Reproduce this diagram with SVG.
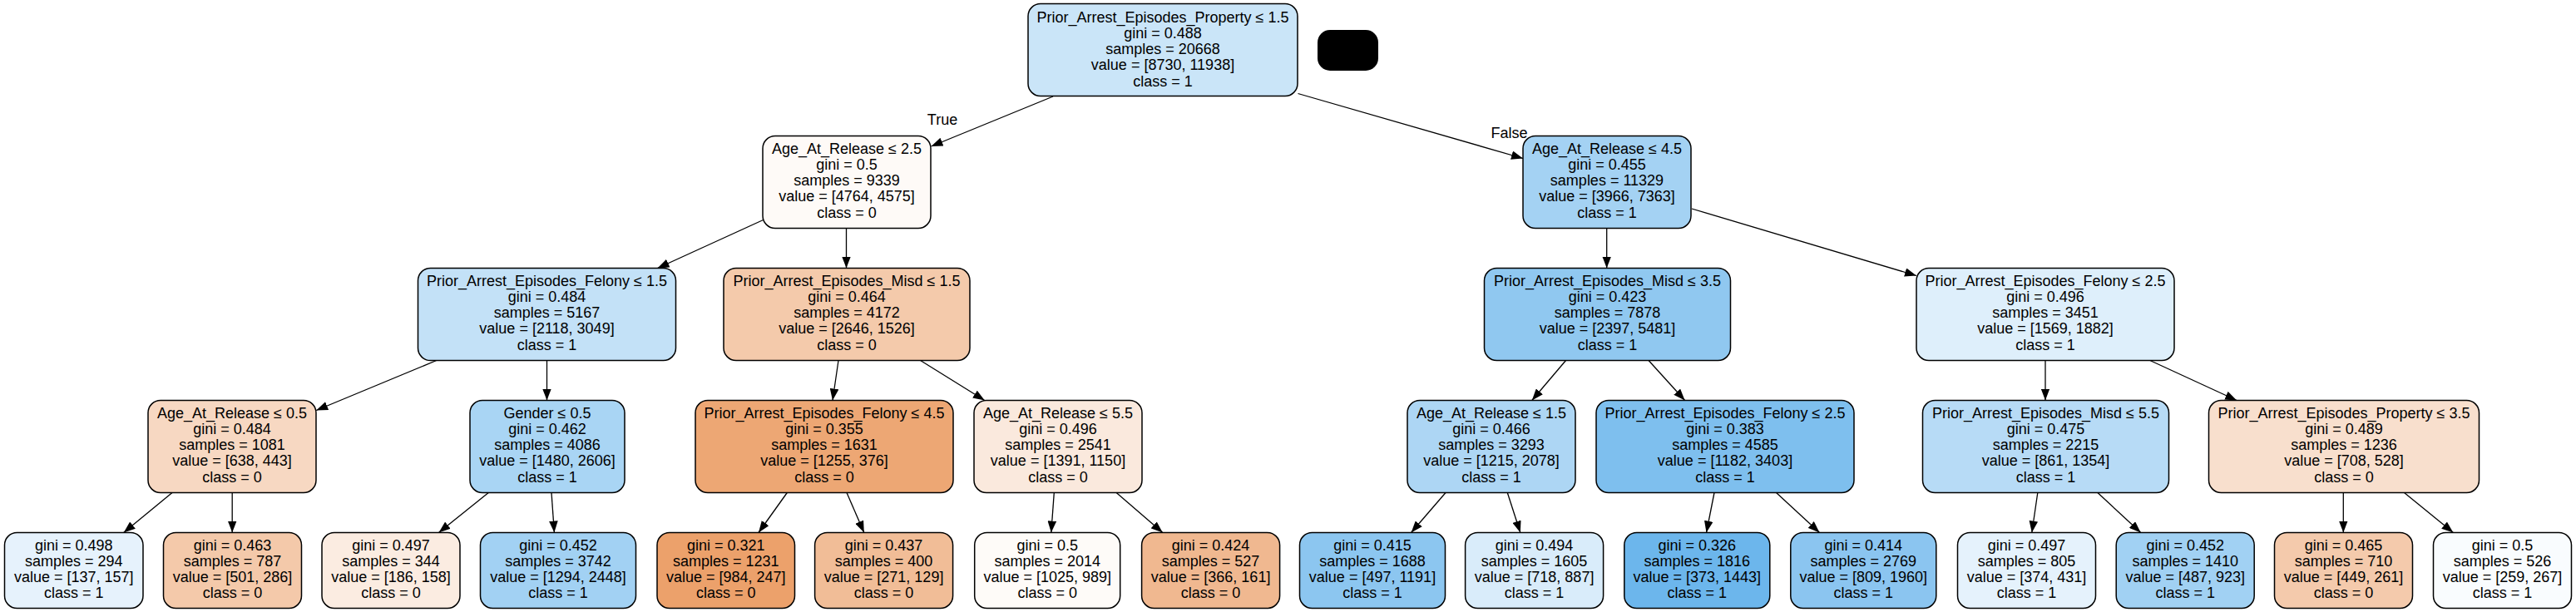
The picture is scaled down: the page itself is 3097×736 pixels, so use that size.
<svg xmlns="http://www.w3.org/2000/svg" width="3097" height="736" viewBox="0 0 3097 736">
<defs>
<style>
.n{stroke:#000;stroke-width:1.5}
.t{font-family:"Liberation Sans",Arial,Helvetica,sans-serif;font-size:18px;text-anchor:middle;fill:#000}
.e{stroke:#000;stroke-width:1.3;fill:none;marker-end:url(#ah)}
</style>
<marker id="ah" markerUnits="userSpaceOnUse" markerWidth="14" markerHeight="10.6" viewBox="0 0 14 10.6" refX="14" refY="5.3" orient="auto">
<path d="M0,0 L14,5.3 L0,10.6 z" fill="#000"/>
</marker>
</defs>
<rect width="3097" height="736" fill="#fff"/>
<g id="edges">
<line class="e" x1="1266" y1="116" x2="1119.5" y2="176"/>
<line class="e" x1="1560.5" y1="112.5" x2="1831" y2="190.5"/>
<line class="e" x1="917.5" y1="264.5" x2="790.5" y2="322.5"/>
<line class="e" x1="1017.5" y1="274.5" x2="1017.5" y2="322.5"/>
<line class="e" x1="1931.7" y1="274.5" x2="1931.7" y2="322.5"/>
<line class="e" x1="2034" y1="251" x2="2304" y2="331.5"/>
<line class="e" x1="524.7" y1="433.5" x2="380.2" y2="493.5"/>
<line class="e" x1="657.5" y1="433.5" x2="657.5" y2="481.5"/>
<line class="e" x1="1008" y1="433.5" x2="1001" y2="481.5"/>
<line class="e" x1="1106.6" y1="433.5" x2="1183.8" y2="481.5"/>
<line class="e" x1="1882.5" y1="433.5" x2="1841.8" y2="481.5"/>
<line class="e" x1="1982.1" y1="433.5" x2="2025.6" y2="481.5"/>
<line class="e" x1="2459" y1="433.5" x2="2459" y2="481.5"/>
<line class="e" x1="2584.9" y1="433.5" x2="2689.1" y2="481.5"/>
<line class="e" x1="207.6" y1="592" x2="148.7" y2="640.5"/>
<line class="e" x1="279.2" y1="592.5" x2="279.2" y2="640.5"/>
<line class="e" x1="587.9" y1="592" x2="527.5" y2="640.5"/>
<line class="e" x1="663" y1="592.5" x2="666.4" y2="640.5"/>
<line class="e" x1="946.3" y1="592.5" x2="912" y2="640.5"/>
<line class="e" x1="1018" y1="592.5" x2="1038.8" y2="640.5"/>
<line class="e" x1="1267.3" y1="592.5" x2="1263.8" y2="640.5"/>
<line class="e" x1="1341.6" y1="592" x2="1397.8" y2="640.5"/>
<line class="e" x1="1738" y1="592.5" x2="1696.6" y2="640.5"/>
<line class="e" x1="1812.3" y1="592.5" x2="1827.8" y2="640.5"/>
<line class="e" x1="2061" y1="592.5" x2="2051.5" y2="640.5"/>
<line class="e" x1="2135" y1="592" x2="2187.5" y2="640.5"/>
<line class="e" x1="2449.8" y1="592.5" x2="2442.8" y2="640.5"/>
<line class="e" x1="2521.9" y1="592.5" x2="2573.7" y2="640.5"/>
<line class="e" x1="2817.3" y1="592.5" x2="2817.3" y2="640.5"/>
<line class="e" x1="2889.9" y1="592" x2="2949.4" y2="640.5"/>
<text class="t" x="1133" y="150">True</text>
<text class="t" x="1814.5" y="165.5">False</text>
</g>
<g id="blackbox"><rect x="1584" y="36" width="73" height="49" rx="15" fill="#000"/></g>
<g id="root"><rect class="n" x="1236" y="4.5" width="324" height="111" rx="15" fill="#cae5f8"/>
<text class="t" y="26.5"><tspan x="1398">Prior_Arrest_Episodes_Property ≤ 1.5</tspan><tspan x="1398" dy="19.3">gini = 0.488</tspan><tspan x="1398" dy="19.3">samples = 20668</tspan><tspan x="1398" dy="19.3">value = [8730, 11938]</tspan><tspan x="1398" dy="19.3">class = 1</tspan></text></g>
<g id="n1"><rect class="n" x="917" y="163.5" width="202" height="111" rx="15" fill="#fefaf7"/>
<text class="t" y="184.5"><tspan x="1018">Age_At_Release ≤ 2.5</tspan><tspan x="1018" dy="19.3">gini = 0.5</tspan><tspan x="1018" dy="19.3">samples = 9339</tspan><tspan x="1018" dy="19.3">value = [4764, 4575]</tspan><tspan x="1018" dy="19.3">class = 0</tspan></text></g>
<g id="n2"><rect class="n" x="1831" y="163.5" width="202" height="111" rx="15" fill="#a4d2f3"/>
<text class="t" y="184.5"><tspan x="1932">Age_At_Release ≤ 4.5</tspan><tspan x="1932" dy="19.3">gini = 0.455</tspan><tspan x="1932" dy="19.3">samples = 11329</tspan><tspan x="1932" dy="19.3">value = [3966, 7363]</tspan><tspan x="1932" dy="19.3">class = 1</tspan></text></g>
<g id="n3"><rect class="n" x="502.5" y="322.5" width="310" height="111" rx="15" fill="#c3e1f7"/>
<text class="t" y="343.5"><tspan x="657.5">Prior_Arrest_Episodes_Felony ≤ 1.5</tspan><tspan x="657.5" dy="19.3">gini = 0.484</tspan><tspan x="657.5" dy="19.3">samples = 5167</tspan><tspan x="657.5" dy="19.3">value = [2118, 3049]</tspan><tspan x="657.5" dy="19.3">class = 1</tspan></text></g>
<g id="n4"><rect class="n" x="870" y="322.5" width="296" height="111" rx="15" fill="#f4caab"/>
<text class="t" y="343.5"><tspan x="1018">Prior_Arrest_Episodes_Misd ≤ 1.5</tspan><tspan x="1018" dy="19.3">gini = 0.464</tspan><tspan x="1018" dy="19.3">samples = 4172</tspan><tspan x="1018" dy="19.3">value = [2646, 1526]</tspan><tspan x="1018" dy="19.3">class = 0</tspan></text></g>
<g id="n5"><rect class="n" x="1784.5" y="322.5" width="296" height="111" rx="15" fill="#90c8f0"/>
<text class="t" y="343.5"><tspan x="1932.5">Prior_Arrest_Episodes_Misd ≤ 3.5</tspan><tspan x="1932.5" dy="19.3">gini = 0.423</tspan><tspan x="1932.5" dy="19.3">samples = 7878</tspan><tspan x="1932.5" dy="19.3">value = [2397, 5481]</tspan><tspan x="1932.5" dy="19.3">class = 1</tspan></text></g>
<g id="n6"><rect class="n" x="2304" y="322.5" width="310" height="111" rx="15" fill="#deeffb"/>
<text class="t" y="343.5"><tspan x="2459">Prior_Arrest_Episodes_Felony ≤ 2.5</tspan><tspan x="2459" dy="19.3">gini = 0.496</tspan><tspan x="2459" dy="19.3">samples = 3451</tspan><tspan x="2459" dy="19.3">value = [1569, 1882]</tspan><tspan x="2459" dy="19.3">class = 1</tspan></text></g>
<g id="n7"><rect class="n" x="178" y="481.5" width="202" height="111" rx="15" fill="#f7d8c2"/>
<text class="t" y="502.5"><tspan x="279">Age_At_Release ≤ 0.5</tspan><tspan x="279" dy="19.3">gini = 0.484</tspan><tspan x="279" dy="19.3">samples = 1081</tspan><tspan x="279" dy="19.3">value = [638, 443]</tspan><tspan x="279" dy="19.3">class = 0</tspan></text></g>
<g id="n8"><rect class="n" x="565" y="481.5" width="186" height="111" rx="15" fill="#a9d5f4"/>
<text class="t" y="502.5"><tspan x="658">Gender ≤ 0.5</tspan><tspan x="658" dy="19.3">gini = 0.462</tspan><tspan x="658" dy="19.3">samples = 4086</tspan><tspan x="658" dy="19.3">value = [1480, 2606]</tspan><tspan x="658" dy="19.3">class = 1</tspan></text></g>
<g id="n9"><rect class="n" x="836" y="481.5" width="310" height="111" rx="15" fill="#eda774"/>
<text class="t" y="502.5"><tspan x="991">Prior_Arrest_Episodes_Felony ≤ 4.5</tspan><tspan x="991" dy="19.3">gini = 0.355</tspan><tspan x="991" dy="19.3">samples = 1631</tspan><tspan x="991" dy="19.3">value = [1255, 376]</tspan><tspan x="991" dy="19.3">class = 0</tspan></text></g>
<g id="n10"><rect class="n" x="1171" y="481.5" width="202" height="111" rx="15" fill="#fae9dd"/>
<text class="t" y="502.5"><tspan x="1272">Age_At_Release ≤ 5.5</tspan><tspan x="1272" dy="19.3">gini = 0.496</tspan><tspan x="1272" dy="19.3">samples = 2541</tspan><tspan x="1272" dy="19.3">value = [1391, 1150]</tspan><tspan x="1272" dy="19.3">class = 0</tspan></text></g>
<g id="n11"><rect class="n" x="1692" y="481.5" width="202" height="111" rx="15" fill="#add6f4"/>
<text class="t" y="502.5"><tspan x="1793">Age_At_Release ≤ 1.5</tspan><tspan x="1793" dy="19.3">gini = 0.466</tspan><tspan x="1793" dy="19.3">samples = 3293</tspan><tspan x="1793" dy="19.3">value = [1215, 2078]</tspan><tspan x="1793" dy="19.3">class = 1</tspan></text></g>
<g id="n12"><rect class="n" x="1919" y="481.5" width="310" height="111" rx="15" fill="#7ebfee"/>
<text class="t" y="502.5"><tspan x="2074">Prior_Arrest_Episodes_Felony ≤ 2.5</tspan><tspan x="2074" dy="19.3">gini = 0.383</tspan><tspan x="2074" dy="19.3">samples = 4585</tspan><tspan x="2074" dy="19.3">value = [1182, 3403]</tspan><tspan x="2074" dy="19.3">class = 1</tspan></text></g>
<g id="n13"><rect class="n" x="2311.5" y="481.5" width="296" height="111" rx="15" fill="#b7dbf6"/>
<text class="t" y="502.5"><tspan x="2459.5">Prior_Arrest_Episodes_Misd ≤ 5.5</tspan><tspan x="2459.5" dy="19.3">gini = 0.475</tspan><tspan x="2459.5" dy="19.3">samples = 2215</tspan><tspan x="2459.5" dy="19.3">value = [861, 1354]</tspan><tspan x="2459.5" dy="19.3">class = 1</tspan></text></g>
<g id="n14"><rect class="n" x="2655.5" y="481.5" width="325" height="111" rx="15" fill="#f8dfcd"/>
<text class="t" y="502.5"><tspan x="2818">Prior_Arrest_Episodes_Property ≤ 3.5</tspan><tspan x="2818" dy="19.3">gini = 0.489</tspan><tspan x="2818" dy="19.3">samples = 1236</tspan><tspan x="2818" dy="19.3">value = [708, 528]</tspan><tspan x="2818" dy="19.3">class = 0</tspan></text></g>
<g id="L1"><rect class="n" x="5.5" y="640.5" width="166.5" height="91" rx="15" fill="#e6f2fc"/>
<text class="t" y="661.5"><tspan x="88.75">gini = 0.498</tspan><tspan x="88.75" dy="19.3">samples = 294</tspan><tspan x="88.75" dy="19.3">value = [137, 157]</tspan><tspan x="88.75" dy="19.3">class = 1</tspan></text></g>
<g id="L2"><rect class="n" x="196.5" y="640.5" width="166" height="91" rx="15" fill="#f4c9aa"/>
<text class="t" y="661.5"><tspan x="279.5">gini = 0.463</tspan><tspan x="279.5" dy="19.3">samples = 787</tspan><tspan x="279.5" dy="19.3">value = [501, 286]</tspan><tspan x="279.5" dy="19.3">class = 0</tspan></text></g>
<g id="L3"><rect class="n" x="387" y="640.5" width="166" height="91" rx="15" fill="#fbece1"/>
<text class="t" y="661.5"><tspan x="470">gini = 0.497</tspan><tspan x="470" dy="19.3">samples = 344</tspan><tspan x="470" dy="19.3">value = [186, 158]</tspan><tspan x="470" dy="19.3">class = 0</tspan></text></g>
<g id="L4"><rect class="n" x="577.5" y="640.5" width="187" height="91" rx="15" fill="#a2d1f3"/>
<text class="t" y="661.5"><tspan x="671">gini = 0.452</tspan><tspan x="671" dy="19.3">samples = 3742</tspan><tspan x="671" dy="19.3">value = [1294, 2448]</tspan><tspan x="671" dy="19.3">class = 1</tspan></text></g>
<g id="L5"><rect class="n" x="790" y="640.5" width="165.5" height="91" rx="15" fill="#eca16b"/>
<text class="t" y="661.5"><tspan x="872.75">gini = 0.321</tspan><tspan x="872.75" dy="19.3">samples = 1231</tspan><tspan x="872.75" dy="19.3">value = [984, 247]</tspan><tspan x="872.75" dy="19.3">class = 0</tspan></text></g>
<g id="L6"><rect class="n" x="979.6" y="640.5" width="166" height="91" rx="15" fill="#f1bd97"/>
<text class="t" y="661.5"><tspan x="1062.6">gini = 0.437</tspan><tspan x="1062.6" dy="19.3">samples = 400</tspan><tspan x="1062.6" dy="19.3">value = [271, 129]</tspan><tspan x="1062.6" dy="19.3">class = 0</tspan></text></g>
<g id="L7"><rect class="n" x="1171.7" y="640.5" width="175" height="91" rx="15" fill="#fefbf8"/>
<text class="t" y="661.5"><tspan x="1259.2">gini = 0.5</tspan><tspan x="1259.2" dy="19.3">samples = 2014</tspan><tspan x="1259.2" dy="19.3">value = [1025, 989]</tspan><tspan x="1259.2" dy="19.3">class = 0</tspan></text></g>
<g id="L8"><rect class="n" x="1372.6" y="640.5" width="166" height="91" rx="15" fill="#f0b890"/>
<text class="t" y="661.5"><tspan x="1455.6">gini = 0.424</tspan><tspan x="1455.6" dy="19.3">samples = 527</tspan><tspan x="1455.6" dy="19.3">value = [366, 161]</tspan><tspan x="1455.6" dy="19.3">class = 0</tspan></text></g>
<g id="L9"><rect class="n" x="1562.5" y="640.5" width="175" height="91" rx="15" fill="#8cc6f0"/>
<text class="t" y="661.5"><tspan x="1650">gini = 0.415</tspan><tspan x="1650" dy="19.3">samples = 1688</tspan><tspan x="1650" dy="19.3">value = [497, 1191]</tspan><tspan x="1650" dy="19.3">class = 1</tspan></text></g>
<g id="L10"><rect class="n" x="1761.6" y="640.5" width="166" height="91" rx="15" fill="#d9ecfa"/>
<text class="t" y="661.5"><tspan x="1844.6">gini = 0.494</tspan><tspan x="1844.6" dy="19.3">samples = 1605</tspan><tspan x="1844.6" dy="19.3">value = [718, 887]</tspan><tspan x="1844.6" dy="19.3">class = 1</tspan></text></g>
<g id="L11"><rect class="n" x="1952.8" y="640.5" width="175" height="91" rx="15" fill="#6cb6ec"/>
<text class="t" y="661.5"><tspan x="2040.3">gini = 0.326</tspan><tspan x="2040.3" dy="19.3">samples = 1816</tspan><tspan x="2040.3" dy="19.3">value = [373, 1443]</tspan><tspan x="2040.3" dy="19.3">class = 1</tspan></text></g>
<g id="L12"><rect class="n" x="2152.8" y="640.5" width="175" height="91" rx="15" fill="#8bc5f0"/>
<text class="t" y="661.5"><tspan x="2240.3">gini = 0.414</tspan><tspan x="2240.3" dy="19.3">samples = 2769</tspan><tspan x="2240.3" dy="19.3">value = [809, 1960]</tspan><tspan x="2240.3" dy="19.3">class = 1</tspan></text></g>
<g id="L13"><rect class="n" x="2353.5" y="640.5" width="166" height="91" rx="15" fill="#e5f2fc"/>
<text class="t" y="661.5"><tspan x="2436.5">gini = 0.497</tspan><tspan x="2436.5" dy="19.3">samples = 805</tspan><tspan x="2436.5" dy="19.3">value = [374, 431]</tspan><tspan x="2436.5" dy="19.3">class = 1</tspan></text></g>
<g id="L14"><rect class="n" x="2544.2" y="640.5" width="166" height="91" rx="15" fill="#a1d1f3"/>
<text class="t" y="661.5"><tspan x="2627.2">gini = 0.452</tspan><tspan x="2627.2" dy="19.3">samples = 1410</tspan><tspan x="2627.2" dy="19.3">value = [487, 923]</tspan><tspan x="2627.2" dy="19.3">class = 1</tspan></text></g>
<g id="L15"><rect class="n" x="2734.5" y="640.5" width="166" height="91" rx="15" fill="#f4caac"/>
<text class="t" y="661.5"><tspan x="2817.5">gini = 0.465</tspan><tspan x="2817.5" dy="19.3">samples = 710</tspan><tspan x="2817.5" dy="19.3">value = [449, 261]</tspan><tspan x="2817.5" dy="19.3">class = 0</tspan></text></g>
<g id="L16"><rect class="n" x="2925.5" y="640.5" width="166" height="91" rx="15" fill="#f9fcfe"/>
<text class="t" y="661.5"><tspan x="3008.5">gini = 0.5</tspan><tspan x="3008.5" dy="19.3">samples = 526</tspan><tspan x="3008.5" dy="19.3">value = [259, 267]</tspan><tspan x="3008.5" dy="19.3">class = 1</tspan></text></g>
</svg>
